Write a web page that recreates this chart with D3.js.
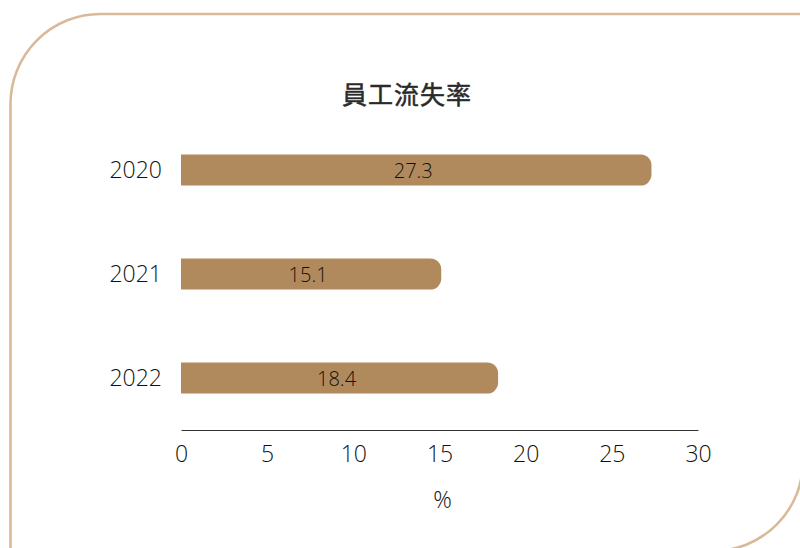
<!DOCTYPE html>
<html>
<head>
<meta charset="utf-8">
<script src="https://cdn.jsdelivr.net/npm/d3@7"></script>
<style>
  body { margin: 0; background: #fff; }
  svg text { font-family: "Open Sans", "Noto Sans", sans-serif; font-weight: 300; fill: #111; }
</style>
</head>
<body>
<svg id="chart"></svg>
<script>
// Data
const years = ["2020", "2021", "2022"];
const rates = [27.3, 15.1, 18.4];
const xTicks = [0, 5, 10, 15, 20, 25, 30];
const title = "員工流失率";
const unit = "%";

const W = 800, H = 548;
const margin = { top: 118, right: 102, bottom: 118, left: 181 };

const svg = d3.select("#chart")
    .attr("width", W)
    .attr("height", H);

// Card border: only top-left and bottom-right corners are rounded
const R = 90;
svg.append("path")
    .attr("d", `M10.5,${H + 10}V${14 + R}A${R},${R} 0 0 1 ${10.5 + R},14H${W + 3}V${551 - R}A${R},${R} 0 0 1 ${W + 3 - R},551H10.5`)
    .attr("fill", "none")
    .attr("stroke", "#dab999")
    .attr("stroke-width", 2.6);

svg.append("text")
    .attr("x", 407)
    .attr("y", 104)
    .attr("text-anchor", "middle")
    .style("font-family", "'Noto Sans CJK TC', 'Noto Sans CJK SC', sans-serif")
    .style("font-size", "25px")
    .style("font-weight", "400")
    .style("fill", "#2a2a2a")
    .style("stroke", "#2a2a2a")
    .style("stroke-width", "0.5px")
    .style("letter-spacing", "1px")
    .text(title);

const x = d3.scaleLinear()
    .domain([0, 30])
    .range([margin.left, W - margin.right]);

const y = d3.scaleBand()
    .domain(years)
    .range([margin.top, H - margin.bottom])
    .paddingInner(0.7)
    .paddingOuter(0.35);

const data = years.map((d, i) => ({ year: d, value: rates[i] }));

// Bars with rounded right end only
const r = 11;
function barPath(d) {
    const x0 = x(0), x1 = x(d.value), y0 = y(d.year), h = y.bandwidth();
    return `M${x0},${y0}H${x1 - r}A${r},${r} 0 0 1 ${x1},${y0 + r}V${y0 + h - r}A${r},${r} 0 0 1 ${x1 - r},${y0 + h}H${x0}Z`;
}

svg.selectAll("path.bar")
    .data(data)
    .enter()
    .append("path")
    .attr("class", "bar")
    .attr("d", barPath)
    .attr("fill", "#b08a5c");

svg.selectAll("text.value")
    .data(data)
    .enter()
    .append("text")
    .attr("class", "value")
    .attr("x", d => (x(0) + x(d.value)) / 2 - 3)
    .attr("y", d => y(d.year) + y.bandwidth() / 2)
    .attr("dy", "0.38em")
    .attr("text-anchor", "middle")
    .style("font-size", "20px")
    .text(d => d.value.toFixed(1));

// Year labels
svg.selectAll("text.year")
    .data(years)
    .enter()
    .append("text")
    .attr("class", "year")
    .attr("x", 162)
    .attr("y", d => y(d) + y.bandwidth() / 2)
    .attr("dy", "0.36em")
    .attr("text-anchor", "end")
    .style("font-size", "23px")
    .text(d => d);

// X axis
const axis = svg.append("g")
    .attr("transform", `translate(0, ${H - margin.bottom})`)
    .call(d3.axisBottom(x).tickValues(xTicks).tickSize(0).tickPadding(16));

axis.select(".domain").attr("stroke", "#333").attr("stroke-width", 1.2);
axis.selectAll("text")
    .attr("fill", "#111")
    .style("font-family", "'Open Sans', 'Noto Sans', sans-serif")
    .style("font-weight", "300")
    .style("font-size", "23px");

svg.append("text")
    .attr("x", (x(0) + x(30)) / 2 + 3)
    .attr("y", 508)
    .attr("text-anchor", "middle")
    .style("font-size", "23px")
    .text(unit);
</script>
</body>
</html>
